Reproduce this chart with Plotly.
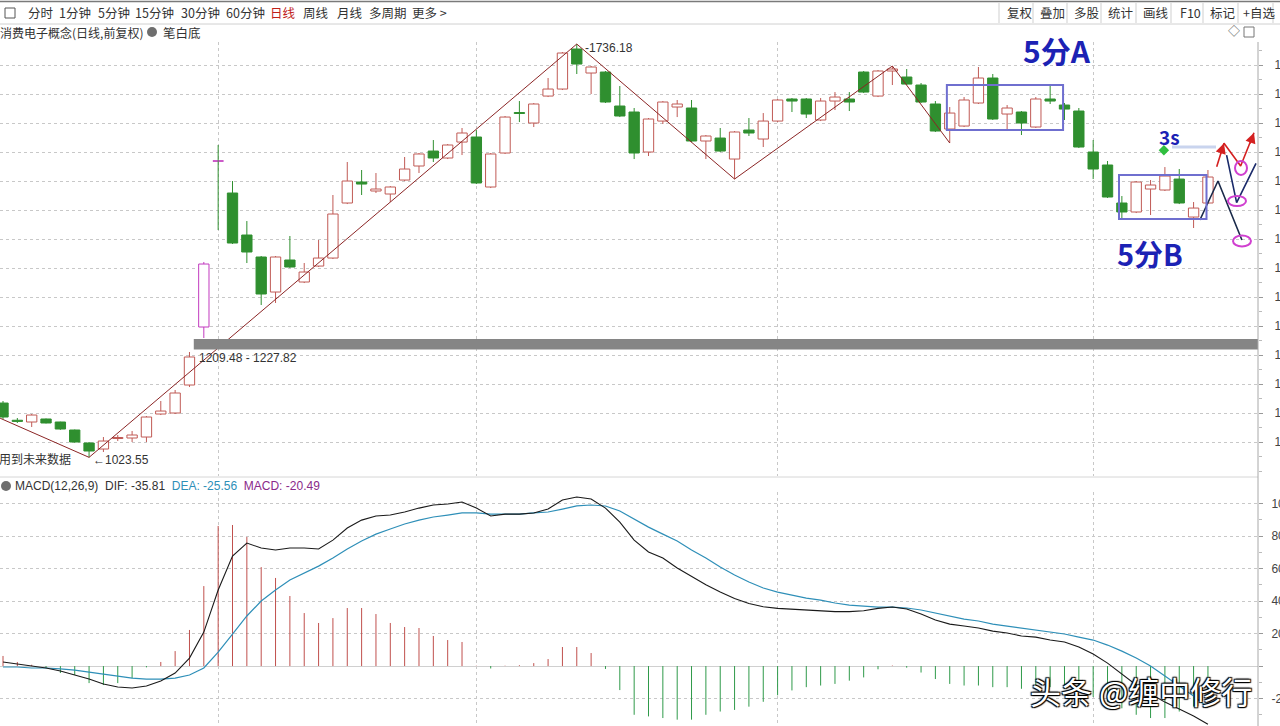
import plotly.graph_objects as go

# ---------------- data ----------------
open_ = [1117.2, 1087.5, 1084.5, 1089.7, 1084.5, 1070.7, 1048.3, 1037.9, 1056.0, 1056.9,
         1058.6, 1098.3, 1100.0, 1148.3, 1248.3, 1535.0, 1479.3, 1406.9, 1369.0, 1308.6,
         1363.8, 1325.9, 1353.4, 1367.2, 1462.1, 1498.3, 1482.8, 1477.6, 1501.7, 1525.9,
         1551.7, 1539.7, 1567.2, 1575.9, 1489.7, 1548.3, 1618.1, 1600.0, 1646.5, 1658.6,
         1727.6, 1686.2, 1687.9, 1629.3, 1619.0, 1550.0, 1603.4, 1627.6, 1625.9, 1569.0,
         1574.1, 1537.9, 1587.9, 1572.4, 1603.4, 1641.4, 1641.4, 1605.2, 1637.9, 1641.4,
         1687.9, 1646.5, 1689.7, 1679.3, 1665.5, 1632.8, 1589.7, 1594.8, 1634.5, 1677.6,
         1615.5, 1619.0, 1593.1, 1641.4, 1631.0, 1620.7, 1550.0, 1527.6, 1462.1, 1446.6,
         1486.2, 1484.5, 1503.4, 1437.9, 1462.1]
high = [1120.7, 1091.4, 1098.3, 1090.5, 1085.0, 1071.5, 1050.0, 1058.6, 1062.1, 1069.0,
        1094.8, 1120.7, 1139.7, 1205.2, 1360.4, 1562.1, 1500.0, 1431.0, 1370.7, 1370.7,
        1405.2, 1358.6, 1398.3, 1475.9, 1532.8, 1519.0, 1513.8, 1491.4, 1541.4, 1548.3,
        1570.7, 1563.8, 1591.4, 1587.9, 1548.3, 1612.1, 1637.9, 1634.5, 1677.6, 1722.4,
        1736.18, 1698.3, 1689.7, 1663.8, 1625.9, 1608.6, 1637.9, 1639.7, 1639.7, 1579.3,
        1591.4, 1586.2, 1608.6, 1617.2, 1641.4, 1643.1, 1643.1, 1643.1, 1653.4, 1653.4,
        1689.7, 1691.4, 1698.3, 1693.1, 1669.0, 1637.9, 1627.6, 1644.8, 1696.6, 1684.5,
        1631.0, 1620.7, 1644.8, 1667.2, 1634.5, 1625.9, 1570.7, 1534.5, 1474.1, 1500.0,
        1501.7, 1524.1, 1520.7, 1463.8, 1519.0]
low = [1089.7, 1082.8, 1075.9, 1082.0, 1071.0, 1049.0, 1023.55, 1032.8, 1051.7, 1050.0,
       1050.0, 1096.5, 1098.3, 1144.8, 1229.3, 1415.5, 1391.4, 1358.6, 1286.2, 1289.7,
       1350.0, 1324.1, 1351.7, 1365.5, 1460.3, 1475.9, 1479.3, 1463.8, 1500.0, 1513.8,
       1532.8, 1537.9, 1544.8, 1494.8, 1487.9, 1546.6, 1601.7, 1593.1, 1644.8, 1656.9,
       1684.5, 1650.0, 1634.5, 1610.3, 1537.9, 1543.1, 1598.3, 1610.3, 1567.2, 1537.9,
       1550.0, 1503.4, 1577.6, 1558.6, 1601.7, 1619.0, 1608.6, 1603.4, 1622.4, 1620.7,
       1651.7, 1644.8, 1665.5, 1665.5, 1634.5, 1584.5, 1565.5, 1593.1, 1632.8, 1605.2,
       1586.2, 1579.3, 1591.4, 1632.8, 1605.2, 1556.9, 1503.4, 1470.7, 1432.8, 1444.8,
       1441.4, 1482.8, 1460.3, 1419.0, 1460.3]
close = [1093.1, 1085.5, 1096.5, 1082.8, 1072.4, 1050.0, 1034.5, 1051.7, 1057.8, 1062.1,
         1093.1, 1103.4, 1134.5, 1196.6, 1356.9, 1534.0, 1393.1, 1377.6, 1305.2, 1369.0,
         1351.7, 1343.1, 1367.2, 1443.1, 1500.0, 1494.8, 1486.2, 1489.7, 1520.7, 1546.6,
         1539.7, 1562.1, 1582.8, 1496.6, 1546.6, 1610.3, 1616.4, 1632.8, 1658.6, 1720.7,
         1701.7, 1696.6, 1636.2, 1612.1, 1548.3, 1606.9, 1636.2, 1632.8, 1569.0, 1577.6,
         1551.7, 1584.5, 1582.8, 1603.4, 1639.7, 1637.9, 1615.5, 1637.9, 1644.8, 1636.2,
         1653.4, 1689.7, 1693.1, 1667.2, 1636.2, 1586.2, 1617.2, 1639.7, 1677.6, 1606.9,
         1625.9, 1600.0, 1641.4, 1637.9, 1624.1, 1558.6, 1520.7, 1472.4, 1446.6, 1498.3,
         1493.1, 1508.6, 1462.1, 1453.4, 1506.9]
marked_body = [14, 15]     # magenta-drawn bodies
marked_wick = [14]

# zigzag ("bi") vertices: (bar index, price)
bi_idx = [-0.2, 6, 40, 51, 62, 66]
bi_val = [1091.0, 1023.55, 1736.18, 1503.4, 1698.3, 1565.5]

zone_lo, zone_hi = 1209.48, 1227.82

dif = [2.5, 1.2, 0.0, -1.2, -3.1, -5.5, -8.0, -11.1, -12.9, -13.5,
       -12.3, -9.2, -4.3, 4.9, 20.9, 46.8, 67.7, 75.7, 72.6, 71.4,
       72.6, 72.6, 72.0, 77.5, 84.9, 89.8, 92.3, 92.9, 94.8, 97.2,
       99.1, 99.7, 100.9, 97.2, 92.3, 93.5, 93.5, 94.2, 96.6, 102.2,
       104.0, 102.8, 97.2, 88.6, 77.5, 70.2, 66.5, 60.3, 55.0, 50.0,
       45.5, 41.5, 38.5, 36.5, 35.5, 35.0, 34.5, 34.0, 33.5, 33.5,
       34.0, 35.5, 36.3, 35.1, 32.0, 28.3, 25.8, 24.6, 23.4, 21.5,
       20.3, 18.5, 17.8, 16.0, 14.8, 11.7, 7.4, 1.8, -4.9, -11.7,
       -17.2, -22.2, -26.5, -30.8, -35.81]
dea = [-0.6, -0.6, -1.2, -1.2, -1.8, -2.5, -3.7, -4.9, -6.2, -7.4,
       -8.0, -8.0, -7.4, -5.5, -1.2, 8.6, 19.7, 30.8, 40.0, 46.8,
       52.9, 57.2, 61.5, 66.5, 72.0, 76.9, 81.2, 84.3, 87.4, 89.8,
       91.7, 92.9, 94.2, 94.2, 93.5, 93.5, 93.5, 94.2, 94.8, 96.6,
       98.5, 99.1, 98.5, 95.4, 90.5, 85.5, 81.2, 76.9, 71.4, 66.5,
       60.9, 56.0, 51.7, 48.0, 45.5, 43.7, 41.8, 40.6, 38.8, 37.5,
       36.9, 36.3, 36.3, 35.7, 34.5, 32.6, 30.8, 28.9, 27.7, 25.8,
       24.6, 23.4, 22.2, 20.9, 19.7, 17.8, 16.0, 12.9, 9.2, 4.9,
       0.0, -6.2, -12.3, -18.5, -25.56]
macd = [6.2, 2.5, 0.8, -1.2, -4.3, -5.5, -10.5, -11.7, -10.5, -7.4,
        -0.8, 2.5, 9.2, 22.2, 49.2, 86.2, 86.8, 79.4, 60.9, 54.2,
        43.1, 32.6, 26.5, 29.5, 35.7, 35.7, 32.0, 26.5, 24.0, 23.4,
        18.5, 16.0, 14.8, 0.2, -1.5, 0.2, 0.5, 1.8, 4.3, 11.7,
        11.7, 8.0, -1.8, -14.8, -30.0, -31.0, -32.0, -33.0, -33.0, -30.0,
        -28.0, -27.0, -25.0, -22.0, -18.0, -15.0, -13.0, -12.0, -11.0, -9.0,
        -7.0, -2.0, 0.3, -1.0, -4.0, -8.0, -11.0, -12.0, -12.0, -13.0,
        -13.0, -14.0, -13.0, -13.0, -14.0, -16.0, -19.0, -22.0, -26.0, -30.0,
        -32.0, -32.0, -28.0, -25.0, -20.49]

price_ticks = [1050, 1100, 1150, 1200, 1250, 1300, 1350, 1400, 1450, 1500, 1550, 1600, 1650, 1700]
macd_ticks = [-20, 0, 20, 40, 60, 80, 100]
month_marks = [15, 33, 54, 76]

# ---------------- layout geometry ----------------
W, H = 1280, 726
ML, MR, MT, MB = 0, 22, 42, 0
PW, PH = W - ML - MR, H - MT - MB


def px(x):
    return (x - ML) / PW


def py(y):
    return (H - MB - y) / PH


RED = "#c05a55"
GREEN = "#2f8f2f"
MAG = "#c23bbf"
FONT = "Liberation Sans, Noto Sans CJK SC, sans-serif"
CJK = "Noto Sans CJK SC, sans-serif"

idx = list(range(len(open_)))
red_i = [i for i in idx if close[i] >= open_[i] and i not in marked_body]
green_i = [i for i in idx if close[i] < open_[i] and i not in marked_body]

fig = go.Figure()


def wick_trace(ids, color):
    xs, ys = [], []
    for i in ids:
        top, bot = max(open_[i], close[i]), min(open_[i], close[i])
        xs += [i, i, None, i, i, None]
        ys += [high[i], top, None, bot, low[i], None]
    return go.Scatter(x=xs, y=ys, mode="lines", line=dict(color=color, width=1),
                      hoverinfo="skip", showlegend=False, xaxis="x", yaxis="y")


def body_trace(ids, fill, edge):
    return go.Bar(x=ids, base=[min(open_[i], close[i]) for i in ids],
                  y=[max(abs(close[i] - open_[i]), 0.9) for i in ids], width=0.72,
                  marker=dict(color=fill, line=dict(color=edge, width=1)),
                  hoverinfo="skip", showlegend=False, xaxis="x", yaxis="y")


wick_red = [i for i in idx if close[i] >= open_[i] and i not in marked_wick]
wick_green = [i for i in idx if close[i] < open_[i] and i not in marked_wick]
fig.add_trace(wick_trace(wick_red, RED))
fig.add_trace(wick_trace(wick_green, GREEN))
fig.add_trace(wick_trace(marked_wick, MAG))
fig.add_trace(body_trace(red_i, "white", RED))
fig.add_trace(body_trace(green_i, GREEN, GREEN))
fig.add_trace(body_trace(marked_body, "white", MAG))

# zigzag
fig.add_trace(go.Scatter(x=bi_idx, y=bi_val, mode="lines", line=dict(color="#8b2525", width=1),
                         hoverinfo="skip", showlegend=False, xaxis="x", yaxis="y"))

# MACD histogram
hx_p, hy_p, hx_n, hy_n = [], [], [], []
for i, v in enumerate(macd):
    if v >= 0:
        hx_p += [i, i, None]
        hy_p += [0, v, None]
    else:
        hx_n += [i, i, None]
        hy_n += [0, v, None]
fig.add_trace(go.Scatter(x=hx_p, y=hy_p, mode="lines", line=dict(color="#c0504d", width=1),
                         hoverinfo="skip", showlegend=False, xaxis="x2", yaxis="y2"))
fig.add_trace(go.Scatter(x=hx_n, y=hy_n, mode="lines", line=dict(color="#2f9a4a", width=1),
                         hoverinfo="skip", showlegend=False, xaxis="x2", yaxis="y2"))
fig.add_trace(go.Scatter(x=idx, y=dea, mode="lines", line=dict(color="#2e8fb8", width=1.2),
                         hoverinfo="skip", showlegend=False, xaxis="x2", yaxis="y2"))
fig.add_trace(go.Scatter(x=idx, y=dif, mode="lines", line=dict(color="#1a1a1a", width=1.1),
                         hoverinfo="skip", showlegend=False, xaxis="x2", yaxis="y2"))

# hand-drawn projection lines (main panel, drawn in index/price space)
fig.add_trace(go.Scatter(x=[83.44, 84.70, 86.37], y=[1432.8, 1500.0, 1398.3], mode="lines",
                         line=dict(color="#1a2a4a", width=1.6), hoverinfo="skip", showlegend=False,
                         xaxis="x", yaxis="y"))
fig.add_trace(go.Scatter(x=[85.30, 86.00, 87.35], y=[1544.8, 1462.6, 1530.5], mode="lines",
                         line=dict(color="#1a2a6a", width=1.6), hoverinfo="skip", showlegend=False,
                         xaxis="x", yaxis="y"))
fig.add_trace(go.Scatter(x=[84.61, 85.12, 86.28, 87.21], y=[1524.7, 1565.0, 1525.9, 1583.3], mode="lines",
                         line=dict(color="#d42020", width=1.6), hoverinfo="skip", showlegend=False,
                         xaxis="x", yaxis="y"))
fig.add_trace(go.Scatter(x=[80.93], y=[1553.0], mode="markers",
                         marker=dict(symbol="diamond", size=8, color="#2fbf3f"),
                         hoverinfo="skip", showlegend=False, xaxis="x", yaxis="y"))

shapes = []
# grey zone band
shapes.append(dict(type="rect", xref="x", yref="y", x0=13.3, x1=87.49, y0=zone_lo, y1=zone_hi,
                   fillcolor="#858585", line=dict(width=0), layer="above"))
# range boxes
shapes.append(dict(type="rect", xref="x", yref="y", x0=65.8, x1=73.9, y0=1587.9, y1=1665.5,
                   line=dict(color="#6f6fcf", width=2)))
shapes.append(dict(type="rect", xref="x", yref="y", x0=77.8, x1=83.9, y0=1434.5, y1=1510.3,
                   line=dict(color="#6f6fcf", width=2)))
# light blue smear
shapes.append(dict(type="line", xref="paper", yref="paper", x0=px(1172), x1=px(1216), y0=py(147), y1=py(147),
                   line=dict(color="#c9d4ee", width=3)))
# magenta ellipses
for cx, cy, rx, ry in [(1241, 168, 6, 7), (1237, 201, 9, 5), (1242, 241, 9, 5.5)]:
    shapes.append(dict(type="circle", xref="paper", yref="paper", x0=px(cx - rx), x1=px(cx + rx),
                       y0=py(cy + ry), y1=py(cy - ry), line=dict(color="#d040d0", width=2)))
# panel separator and right axis line
shapes.append(dict(type="line", xref="paper", yref="paper", x0=0, x1=1, y0=py(477), y1=py(477),
                   line=dict(color="#d6d6d6", width=1)))
shapes.append(dict(type="line", xref="paper", yref="paper", x0=1, x1=1, y0=0, y1=1,
                   line=dict(color="#a8a8a8", width=1)))
# toolbar lines
shapes.append(dict(type="line", xref="paper", yref="paper", x0=0, x1=px(1280), y0=py(1.5), y1=py(1.5),
                   line=dict(color="#7a7a7a", width=1.5)))
shapes.append(dict(type="line", xref="paper", yref="paper", x0=0, x1=px(1280), y0=py(24), y1=py(24),
                   line=dict(color="#d0d0d0", width=1)))
for sx in [999, 1033, 1067, 1101, 1136, 1171, 1203, 1238, 1273]:
    shapes.append(dict(type="line", xref="paper", yref="paper", x0=px(sx), x1=px(sx), y0=py(3), y1=py(23),
                       line=dict(color="#cfcfcf", width=1)))
# icons
shapes.append(dict(type="rect", xref="paper", yref="paper", x0=px(5), x1=px(15), y0=py(18), y1=py(8),
                   line=dict(color="#555", width=1)))
shapes.append(dict(type="rect", xref="paper", yref="paper", x0=px(1244), x1=px(1254), y0=py(37), y1=py(27),
                   line=dict(color="#777", width=1)))
shapes.append(dict(type="circle", xref="paper", yref="paper", x0=px(147), x1=px(157), y0=py(37), y1=py(27),
                   fillcolor="#6e6e6e", line=dict(width=0)))
shapes.append(dict(type="circle", xref="paper", yref="paper", x0=px(1), x1=px(11), y0=py(491), y1=py(481),
                   fillcolor="#6e6e6e", line=dict(width=0)))

ann = []


def T(x, y, text, size=12, color="#333", anchor="left", family=FONT, **kw):
    ann.append(dict(xref="paper", yref="paper", x=px(x), y=py(y), text=text, showarrow=False,
                    xanchor=anchor, yanchor="middle", font=dict(size=size, color=color, family=family), **kw))


tb = [(26, "分时"), (57, "1分钟"), (96, "5分钟"), (133, "15分钟"), (179, "30分钟"), (224, "60分钟"),
      (268, "日线"), (301, "周线"), (335, "月线"), (367, "多周期"), (410, "更多 >")]
for x, t in tb:
    T(x, 13, t, 12.5, "#c0201a" if t == "日线" else "#333", family=CJK)
for x, t in [(1005, "复权"), (1038, "叠加"), (1072, "多股"), (1106, "统计"), (1141, "画线"),
             (1178, "F10"), (1208, "标记"), (1241, "+自选")]:
    T(x, 13, t, 12.5, "#333", family=CJK)

T(-2, 32, "消费电子概念(日线,前复权)", 12, "#333", family=CJK)
T(161, 32, "笔白底", 12.5, "#333", family=CJK)
T(1226, 32, "◇", 12, "#666")

T(583, 48, "-1736.18", 12, "#333")
T(197, 358, "1209.48 - 1227.82", 12, "#333")
T(91, 460, "←1023.55", 12, "#333")
T(-3, 458, "用到未来数据", 12, "#333", family=CJK)

T(13, 486, "MACD(12,26,9)  DIF: -35.81  <span style='color:#2e8fb8'>DEA: -25.56</span>  "
           "<span style='color:#8a2a8a'>MACD: -20.49</span>", 12, "#333")

# handwritten notes
T(1057, 50, "<b>5分A</b>", 30, "#1c22b4", anchor="center", family=CJK)
T(1150, 253, "<b>5分B</b>", 29, "#1c22b4", anchor="center", family=CJK)
T(1169, 137, "<b>3s</b>", 19, "#1c22b4", anchor="center", family=CJK)

# watermark
ann.append(dict(xref="paper", yref="paper", x=px(1141), y=py(690), text="头条 @缠中修行", showarrow=False,
                xanchor="center", yanchor="middle",
                font=dict(size=31, color="white", family=CJK,
                          shadow="1px 1px 1px #000, -1px -1px 1px #000, 1px -1px 1px #000, -1px 1px 1px #000")))

# arrow heads for red projection
for (x0, y0, x1, y1) in [(84.85, 1545.0, 85.12, 1565.0), (86.9, 1562.0, 87.21, 1583.3)]:
    ann.append(dict(xref="x", yref="y", axref="x", ayref="y", x=x1, y=y1, ax=x0, ay=y0, text="",
                    showarrow=True, arrowhead=2, arrowsize=1.3, arrowwidth=1.6, arrowcolor="#d42020"))

fig.update_layout(
    width=W, height=H, margin=dict(l=ML, r=MR, t=MT, b=MB, autoexpand=False),
    paper_bgcolor="white", plot_bgcolor="white", barmode="overlay",
    showlegend=False, shapes=shapes, annotations=ann,
    font=dict(family=FONT, size=12, color="#333"),
    xaxis=dict(domain=[0, 1], range=[-0.209, 87.49], anchor="y", tickvals=month_marks, automargin=False,
               showticklabels=False, ticks="", showgrid=True, gridcolor="#c8c8c8", griddash="dot",
               zeroline=False, showline=False),
    xaxis2=dict(domain=[0, 1], matches="x", anchor="y2", tickvals=month_marks, automargin=False,
                showticklabels=False, ticks="", showgrid=True, gridcolor="#c8c8c8", griddash="dot",
                zeroline=False, showline=False),
    yaxis=dict(domain=[py(476), 1], range=[991.4, 1739.7], side="right", anchor="x", automargin=False,
               tickvals=price_ticks, ticktext=[str(v) for v in price_ticks],
               ticks="outside", ticklen=4, tickcolor="#999", ticklabelstandoff=9,
               minor=dict(ticks="outside", ticklen=3, dtick=25, tickcolor="#bbb", showgrid=False),
               showgrid=True, gridcolor="#c8c8c8", griddash="dot", zeroline=False,
               tickfont=dict(size=12, color="#444")),
    yaxis2=dict(domain=[0, py(492)], range=[-36.9, 107.1], side="right", anchor="x2", automargin=False,
                tickvals=macd_ticks, ticktext=["" if v == 0 else str(v) for v in macd_ticks],
                ticks="outside", ticklen=4, tickcolor="#999", ticklabelstandoff=6,
                minor=dict(ticks="outside", ticklen=3, dtick=10, tickcolor="#bbb", showgrid=False),
                showgrid=True, gridcolor="#c8c8c8", griddash="dot",
                zeroline=True, zerolinecolor="#d0d0d0", zerolinewidth=1,
                tickfont=dict(size=12, color="#444")),
)

fig.write_html("out.html")
